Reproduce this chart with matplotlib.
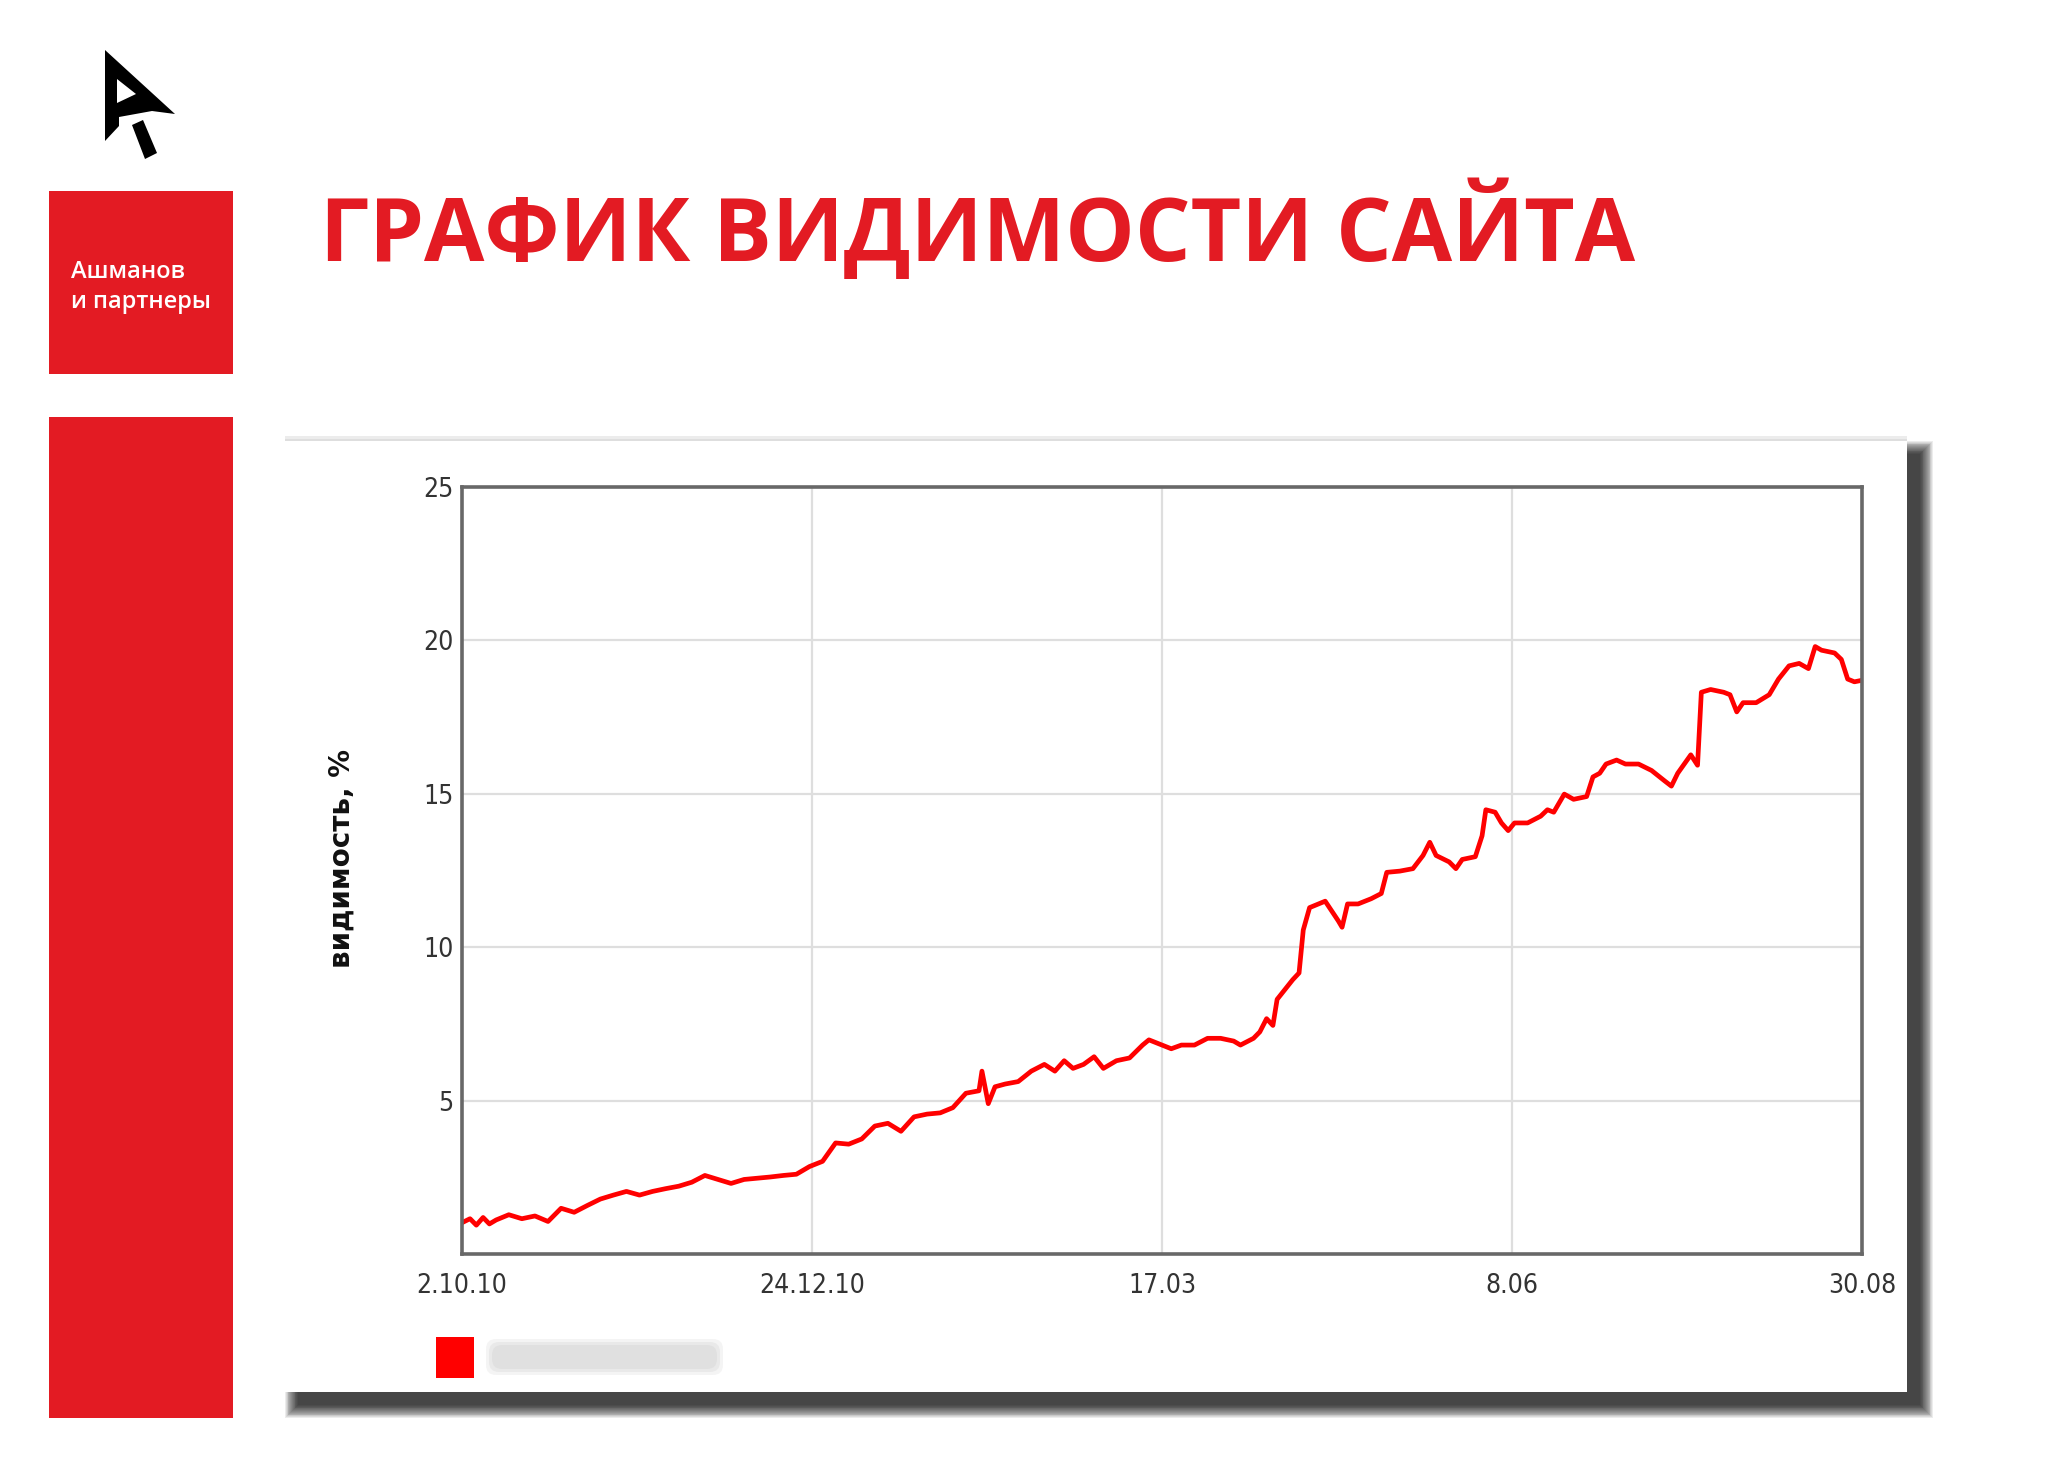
import matplotlib
matplotlib.use("Agg")
import matplotlib.pyplot as plt
from matplotlib.patches import Rectangle, Polygon, FancyBboxPatch
import numpy as np

# data: days since 2.10.10, visibility in %
days = [0, 1.9, 3.4, 5.0, 6.5, 8.1, 11.1, 14.2, 17.3, 20.4, 23.5, 26.6, 29.7, 32.8,
        35.9, 39.0, 42.1, 45.2, 48.3, 51.4, 54.5, 57.6, 60.7, 63.8, 66.9, 70.0,
        73.1, 76.2, 79.3, 82.4, 85.5, 88.6, 91.7, 94.8, 97.9, 101.0, 104.1, 107.2,
        110.3, 113.4, 116.4, 119.5, 122.6, 123.3, 124.8, 126.4, 128.8, 131.9, 135.0,
        138.1, 140.6, 142.8, 144.9, 147.4, 149.9, 152.1, 155.2, 158.3, 161.4, 162.9,
        166.0, 168.2, 170.6, 173.7, 176.8, 179.9, 183.0, 184.6, 187.7, 189.2, 190.8,
        192.3, 193.3, 197.0, 198.5, 199.5, 201.0, 204.7, 207.8, 208.7, 210.0, 212.5,
        215.6, 218.0, 219.3, 222.4, 225.5, 227.9, 229.5, 231.0, 234.1, 235.7, 237.2,
        240.3, 241.9, 242.8, 245.0, 246.5, 248.1, 249.6, 252.7, 255.8, 257.4, 258.9,
        261.4, 263.6, 266.7, 268.2, 269.8, 271.3, 273.8, 275.9, 279.0, 282.1, 285.2,
        286.8, 288.3, 291.4, 293.0, 293.9, 296.1, 299.2, 300.7, 302.3, 303.8, 306.9,
        310.0, 312.2, 314.7, 317.1, 319.3, 320.9, 322.4, 325.5, 327.1, 328.6, 330.2, 332]
visibility = [1.02, 1.15, 0.94, 1.19, 0.98, 1.11, 1.28, 1.15, 1.24, 1.06, 1.49, 1.36,
              1.58, 1.79, 1.92, 2.04, 1.92, 2.04, 2.13, 2.21, 2.34, 2.56, 2.43, 2.30,
              2.43, 2.47, 2.51, 2.56, 2.60, 2.85, 3.02, 3.62, 3.58, 3.75, 4.17, 4.26,
              4.00, 4.47, 4.56, 4.60, 4.77, 5.24, 5.32, 5.96, 4.90, 5.45, 5.54, 5.62,
              5.96, 6.18, 5.96, 6.30, 6.05, 6.18, 6.43, 6.05, 6.30, 6.39, 6.81, 6.98,
              6.81, 6.69, 6.81, 6.81, 7.03, 7.03, 6.94, 6.81, 7.03, 7.24, 7.67, 7.45,
              8.30, 8.94, 9.16, 10.56, 11.29, 11.50, 10.86, 10.65, 11.41, 11.41, 11.58,
              11.75, 12.44, 12.48, 12.56, 12.99, 13.42, 12.99, 12.78, 12.56, 12.86,
              12.95, 13.63, 14.48, 14.40, 14.05, 13.80, 14.05, 14.05, 14.27, 14.48,
              14.40, 14.99, 14.82, 14.91, 15.55, 15.67, 15.97, 16.10, 15.97, 15.97,
              15.76, 15.42, 15.25, 15.67, 16.27, 15.93, 18.31, 18.40, 18.31, 18.23,
              17.67, 17.97, 17.97, 18.23, 18.74, 19.17, 19.25, 19.08, 19.80, 19.68,
              19.59, 19.38, 18.74, 18.65, 18.70]

x_tick_days = [0, 83, 166, 249, 332]
x_labels = ['2.10.10', '24.12.10', '17.03', '8.06', '30.08']
y_ticks = [5, 10, 15, 20, 25]

W, H = 2048, 1483
RED = '#e31b23'

fig = plt.figure(figsize=(W / 100, H / 100), dpi=100)
fig.patch.set_facecolor('white')

# background layer in pixel coordinates (y down)
bg = fig.add_axes([0, 0, 1, 1], zorder=0)
bg.set_xlim(0, W)
bg.set_ylim(H, 0)
bg.axis('off')

# logo
outer = [(105, 50), (175, 114), (152, 111), (119, 117), (119, 126), (105, 141)]
bg.add_patch(Polygon(outer, closed=True, color='black', lw=0))
bg.add_patch(Polygon([(117, 79), (136, 94), (117, 103)], closed=True, color='white', lw=0))
bg.add_patch(Polygon([(132, 125), (143, 120), (157, 153), (145, 159)], closed=True,
                     color='black', lw=0))

# red blocks on the left
bg.add_patch(Rectangle((49, 191), 184, 183, color=RED, lw=0))
bg.add_patch(Rectangle((49, 417), 184, 1001, color=RED, lw=0))
bg.text(71, 278, 'Ашманов', color='white', fontsize=17, family='Open Sans',
        weight='semibold', va='baseline')
bg.text(71, 308, 'и партнеры', color='white', fontsize=17, family='Open Sans',
        weight='semibold', va='baseline')

# title
bg.text(320, 231, 'ГРАФИК ВИДИМОСТИ САЙТА', color=RED, fontsize=63, family='Open Sans',
        weight='bold', va='center', ha='left')

# chart panel with soft shadow
px0, py0, px1, py1 = 285, 441, 1907, 1392
for s in np.linspace(13, 0, 16):
    bg.add_patch(Rectangle((px0 + 13 - s, py0 + 13 - s), px1 - px0 + 2 * s, py1 - py0 + 2 * s,
                           color='black', alpha=0.075, lw=0))
bg.add_patch(Rectangle((px0, py0 - 5), px1 - px0, 6, color='#ececec', lw=0))
bg.add_patch(Rectangle((px0, py0 - 2), px1 - px0, 3, color='#dedede', lw=0))
bg.add_patch(Rectangle((px0, py0), px1 - px0, py1 - py0, color='white', lw=0))

# legend (blurred name)
bg.add_patch(Rectangle((436, 1337), 38, 41, color='#ff0000', lw=0))
for a, grow in [(0.25, 6), (0.35, 3), (0.45, 0)]:
    bg.add_patch(FancyBboxPatch((492 - grow, 1345 - grow), 225 + 2 * grow, 24 + 2 * grow,
                                boxstyle='round,pad=0,rounding_size=10',
                                color='#d6d6d6', alpha=a, lw=0))

# chart
left, right, top, bottom = 462, 1862, 487, 1254
ax = fig.add_axes([left / W, 1 - bottom / H, (right - left) / W, (bottom - top) / H], zorder=2)
ax.plot(days, visibility, color='#ff0000', linewidth=3.4, solid_joinstyle='round')
ax.set_xlim(0, 332)
ax.set_ylim(0, 25)
ax.set_xticks(x_tick_days)
ax.set_xticklabels(x_labels)
ax.set_yticks(y_ticks)
ax.grid(True, color='#dedede', linewidth=1.6)
ax.set_axisbelow(True)
for sp in ax.spines.values():
    sp.set_color('#686868')
    sp.set_linewidth(2.6)
ax.tick_params(axis='both', length=0, labelsize=19, labelcolor='#333333')
ax.tick_params(axis='x', pad=14)
ax.tick_params(axis='y', pad=6)
for lab in ax.get_xticklabels() + ax.get_yticklabels():
    lab.set_fontstretch('condensed')
ax.set_ylabel('видимость, %', fontsize=20, weight='bold', color='#111111')
ax.yaxis.set_label_coords(-0.076, 0.516)

fig.savefig('out.png', dpi=100)
